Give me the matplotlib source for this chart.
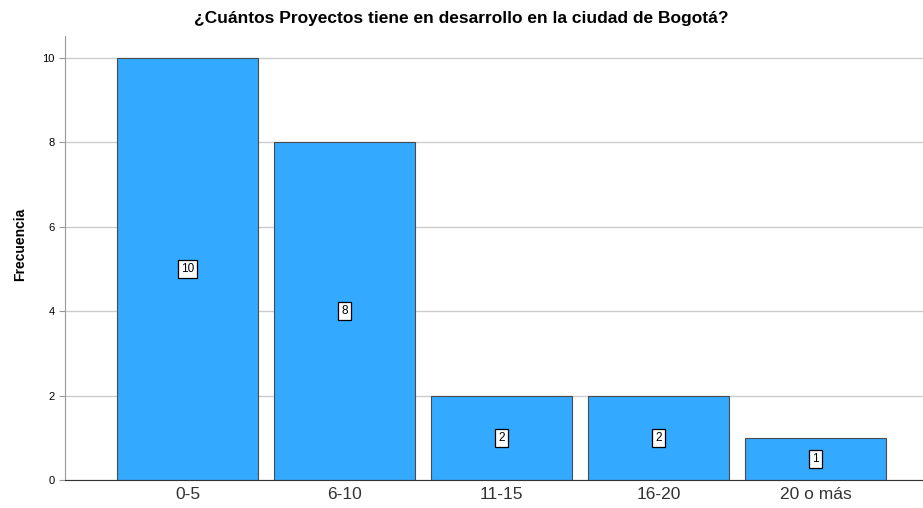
import numpy as np
import matplotlib
matplotlib.use("Agg")
import matplotlib.pyplot as plt

categories = ["0-5", "6-10", "11-15", "16-20", "20 o más"]
counts = [10, 8, 2, 2, 1]
title = "¿Cuántos Proyectos tiene en desarrollo en la ciudad de Bogotá?"

plt.rcParams['font.family'] = ['Liberation Sans', 'DejaVu Sans']

fig = plt.figure(figsize=(9.23, 5.08), dpi=100)
ax = fig.add_axes([0.0704, 0.0551, 0.9296, 0.874])

x = np.arange(len(categories))
bars = ax.bar(x, counts, width=0.898, color='#33AAFF', edgecolor='#4a4a4a', linewidth=0.8, zorder=3)

# value labels in the middle of each bar
for xi, v in zip(x, counts):
    ax.text(xi, v / 2, str(v), ha='center', va='center', fontsize=8.5, zorder=4,
            bbox=dict(boxstyle='square,pad=0.25', facecolor='white', edgecolor='black', linewidth=0.9))

ax.set_xlim(-0.78, 4.685)
ax.set_ylim(0, 10.52)
ax.set_yticks([0, 2, 4, 6, 8, 10])
ax.set_xticks(x)
ax.set_xticklabels(categories, fontsize=12.5, color='#333333')
ax.tick_params(axis='y', labelsize=8, length=4, color='#999999')
ax.tick_params(axis='x', length=0, pad=5)
ax.yaxis.grid(True, color='#cccccc', linewidth=1, zorder=0)

for side in ['top', 'right']:
    ax.spines[side].set_visible(False)
ax.spines['left'].set_color('#999999')
ax.spines['bottom'].set_color('#333333')
ax.spines['bottom'].set_zorder(5)

ax.set_ylabel("Frecuencia", fontsize=10, fontweight='bold')
ax.yaxis.set_label_coords(-0.044, 0.53)
fig.text(0.5, 0.964, title, ha='center', va='center', fontsize=12.5, fontweight='bold')

fig.savefig("out.png", dpi=100)
